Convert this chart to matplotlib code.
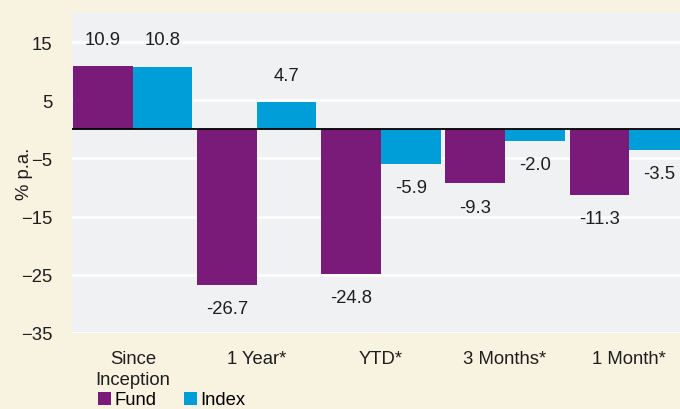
import numpy as np
import matplotlib.pyplot as plt

plt.rcParams['font.family'] = ['Liberation Sans', 'DejaVu Sans']

categories = ['Since\nInception', '1 Year*', 'YTD*', '3 Months*', '1 Month*']
fund = [10.9, -26.7, -24.8, -9.3, -11.3]
index = [10.8, 4.7, -5.9, -2.0, -3.5]
yticks = [15, 5, -5, -15, -25, -35]

purple = '#7a1b7a'
blue = '#009ed8'
cream = '#f8f2e1'
fs = 13.3

fig = plt.figure(figsize=(6.8, 4.1), dpi=100, facecolor=cream)
ax = fig.add_axes([72/680, 1 - 334/410, 1 - 72/680, (334 - 14)/410])
ax.set_facecolor('#f0f1f3')

x = np.arange(len(categories))
w = 0.48
b1 = ax.bar(x - w/2, fund, w, color=purple, label='Fund', zorder=3)
b2 = ax.bar(x + w/2, index, w, color=blue, label='Index', zorder=3)

for bars, vals in [(b1, fund), (b2, index)]:
    for r, v in zip(bars, vals):
        cx = r.get_x() + r.get_width()/2
        if v >= 0:
            ax.annotate(f'{v:.1f}', (cx, v), xytext=(0, 13), textcoords='offset points',
                        ha='center', va='bottom', fontsize=fs, color='#1e1e1e')
        else:
            ax.annotate(f'{v:.1f}', (cx, v), xytext=(0, -11), textcoords='offset points',
                        ha='center', va='top', fontsize=fs, color='#1e1e1e')

ax.axhline(0, color='black', lw=1.3, zorder=4)
ax.set_ylim(-35, 20)
ax.set_xlim(-0.49, 4.41)
ax.set_yticks(yticks)
ax.grid(axis='y', color='white', lw=2, zorder=1)
ax.set_xticks(x)
ax.set_xticklabels(categories, fontsize=fs, color='#1e1e1e', linespacing=1.3)
ax.tick_params(axis='both', length=0, labelsize=fs, colors='#1e1e1e')
ax.tick_params(axis='y', pad=14)
ax.tick_params(axis='x', pad=12)
for s in ax.spines.values():
    s.set_visible(False)
ax.set_ylabel('% p.a.', fontsize=fs, color='#1e1e1e')
ax.yaxis.set_label_coords(-0.064, 0.5)

fig.legend(handles=[b1, b2], labels=['Fund', 'Index'], loc='center left',
           bbox_to_anchor=(89/680, 1 - 401/410), ncol=2, frameon=False,
           fontsize=fs, handlelength=0.7, handleheight=0.7, handletextpad=0.2,
           columnspacing=1.45, borderpad=0)

fig.savefig('out.png', dpi=100, facecolor=cream)
